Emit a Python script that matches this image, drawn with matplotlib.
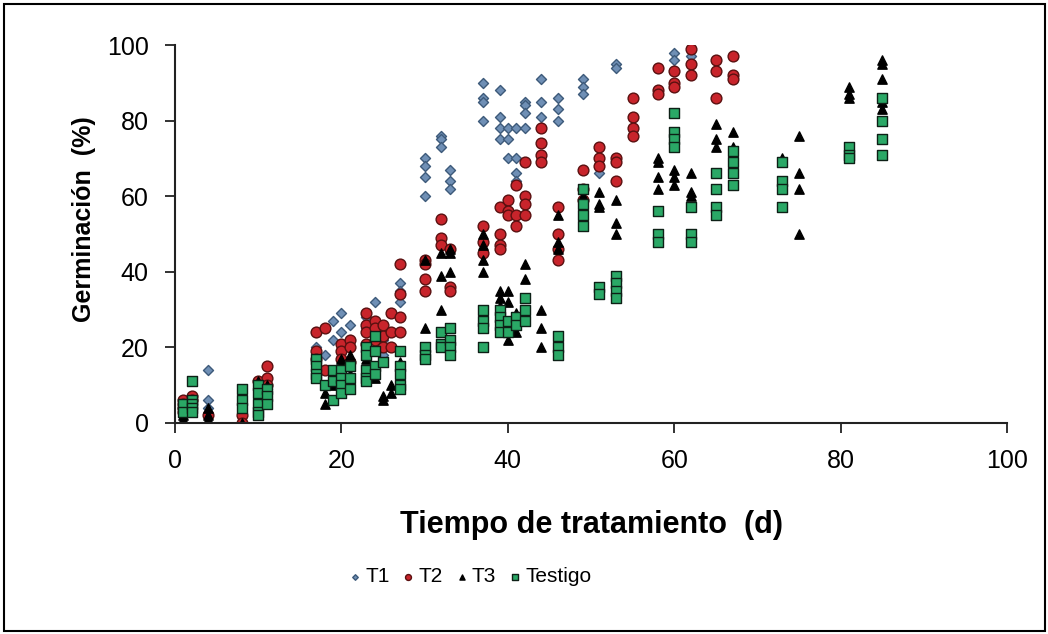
import matplotlib
matplotlib.use("Agg")
import matplotlib.pyplot as plt
from matplotlib.patches import Rectangle

# days of treatment per column and germination values (%)
t1_dias = [1, 2, 4, 11, 17, 18, 19, 20, 21, 23, 24, 25, 27, 30, 32, 33, 37, 39, 40,
           41, 42, 44, 46, 49, 51, 53, 58, 60, 62]
t1_germ = [[4], [5], [14, 6, 4], [9], [24, 20], [18], [22, 27], [29, 24], [26, 22],
           [28, 25], [32, 26], [22, 18], [37, 35, 32], [70, 68, 65, 60], [76, 75, 73],
           [67, 64, 62], [90, 86, 85, 80], [88, 81, 78, 75], [78, 75, 70],
           [78, 70, 66, 64], [85, 84, 82, 78], [91, 85, 81], [86, 83, 80], [91, 89, 87],
           [66], [95, 94], [94], [98, 96], [97]]

t2_dias = [1, 2, 4, 8, 10, 11, 17, 18, 20, 21, 23, 24, 25, 26, 27, 30, 32, 33, 37, 39,
           40, 41, 42, 44, 46, 49, 51, 53, 55, 58, 60, 62, 65, 67]
t2_germ = [[6, 5, 4, 3], [7, 6], [2], [2, 0], [11], [15, 12, 10], [24, 19, 17], [25, 14],
           [21, 19, 17], [22, 20, 16], [29, 26, 24, 21], [27, 25, 22], [26, 23, 20],
           [29, 24, 20], [42, 34, 28, 24], [43, 42, 38, 35], [54, 49, 47], [46, 36, 35],
           [52, 48, 45], [57, 50, 47, 46], [59, 56, 55], [63, 55, 52], [69, 60, 58, 55],
           [78, 74, 71, 69], [57, 50, 46, 43], [67, 62, 59], [73, 70, 68], [70, 69, 64],
           [86, 81, 78, 76], [94, 88, 87], [93, 90, 89], [99, 95, 92], [96, 93, 86],
           [97, 92, 91]]

t3_dias = [1, 4, 8, 10, 11, 17, 18, 19, 20, 21, 23, 24, 25, 26, 27, 30, 32, 33, 37, 39,
           40, 41, 42, 44, 46, 49, 51, 53, 58, 60, 62, 65, 67, 73, 75, 81, 85]
t3_germ = [[5, 3, 2, 1], [4, 2, 1, 0], [0], [11, 9, 6], [8, 10], [15, 13], [8, 5],
           [12, 10], [17, 15], [18, 13], [17, 13], [12], [6, 7], [10, 8], [16, 12],
           [43, 25], [45, 39, 30], [46, 40, 45], [50, 47, 43, 40], [35, 33, 31],
           [35, 32, 22], [29, 27, 24], [42, 38], [30, 25, 20], [55, 48, 46], [60, 57],
           [61, 58, 57], [59, 53, 50], [70, 69, 65, 62], [67, 65, 63], [66, 61, 60],
           [79, 75, 73], [77, 73], [70], [76, 66, 62, 50], [89, 87, 86],
           [96, 95, 91, 85, 83]]

testigo_dias = [1, 2, 8, 10, 11, 17, 18, 19, 20, 21, 23, 24, 25, 27, 30, 32, 33, 37, 39,
                40, 41, 42, 46, 49, 51, 53, 58, 60, 62, 65, 67, 73, 81, 85]
testigo_germ = [[5, 3], [11, 6, 5, 4, 3], [9, 6, 4], [10, 8, 5, 3, 2], [9, 7, 5],
                [17, 15, 13, 12], [10], [14, 11, 6], [14, 12, 10, 8], [15, 12, 9],
                [20, 18, 14, 12, 11], [23, 19, 15, 13], [16], [19, 15, 13, 10, 9],
                [20, 18, 17], [24, 21, 20], [25, 22, 20, 18], [30, 27, 25, 20],
                [30, 28, 26, 24], [27, 24], [28, 26], [33, 30, 27], [23, 20, 18],
                [62, 58, 55, 52], [36, 34], [39, 37, 35, 33], [56, 50, 48],
                [82, 77, 75, 73], [57, 50, 48], [66, 62, 57, 55], [72, 69, 66, 63],
                [69, 64, 62, 57], [73, 71, 70], [86, 80, 75, 71]]


def flatten(dias, germ):
    xs, ys = [], []
    for d, vals in zip(dias, germ):
        for v in vals:
            xs.append(d)
            ys.append(v)
    return xs, ys


plt.rcParams['font.family'] = ['Liberation Sans', 'DejaVu Sans']

fig = plt.figure(figsize=(10.48, 6.34), dpi=100)
ax = fig.add_axes([0.167, 0.333, 0.794, 0.596])

series = [
    (t1_dias, t1_germ, 'T1', 'D', 26, '#6f8fb5', '#3d5a7a'),
    (t2_dias, t2_germ, 'T2', 'o', 60, '#c8242b', '#5a1010'),
    (t3_dias, t3_germ, 'T3', '^', 45, '#000000', '#000000'),
    (testigo_dias, testigo_germ, 'Testigo', 's', 50, '#2aa866', '#0d2016'),
]
for dias, germ, name, mk, size, fc, ec in series:
    xs, ys = flatten(dias, germ)
    ax.scatter(xs, ys, marker=mk, s=size, c=fc, edgecolors=ec, linewidths=1.0,
               label=name)

ax.set_xlim(0, 100)
ax.set_ylim(0, 100)
ax.set_xticks(range(0, 101, 20))
ax.set_yticks(range(0, 101, 20))
for side in ['top', 'right']:
    ax.spines[side].set_visible(False)
for side in ['left', 'bottom']:
    ax.spines[side].set_linewidth(1.5)
    ax.spines[side].set_color('#222222')
ax.tick_params(axis='both', direction='out', length=7, width=1.3, labelsize=18,
               color='#222222', pad=12)

ax.set_xlabel('Tiempo de tratamiento  (d)', fontsize=22, fontweight='bold')
ax.xaxis.set_label_coords(0.5, -0.23)
ax.set_ylabel('Germinación  (%)', fontsize=18, fontweight='bold')
ax.yaxis.set_label_coords(-0.095, 0.54)

fig.legend(loc='center', bbox_to_anchor=(0.447, 0.09), ncol=4, frameon=False,
           fontsize=15, markerscale=0.55, handletextpad=0.05, columnspacing=0.45,
           handlelength=0.9)

fig.patches.append(Rectangle((0.004, 0.004), 0.993, 0.99, transform=fig.transFigure,
                             fill=False, edgecolor='black', linewidth=1.5))

plt.savefig('out.png', dpi=100)
